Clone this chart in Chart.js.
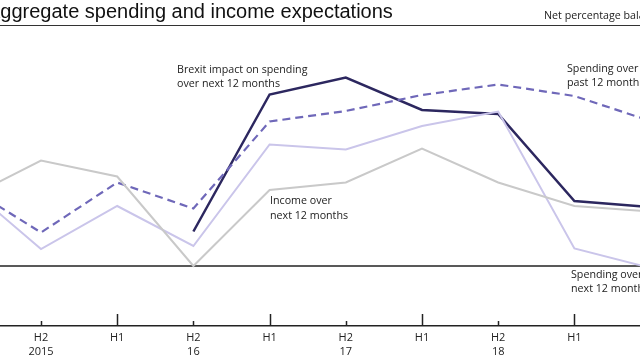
<!DOCTYPE html>
<html>
<head>
<meta charset="utf-8">
<style>
  html, body { margin: 0; padding: 0; background: #fff; overflow: hidden; }
  #wrap { position: relative; width: 640px; height: 360px; overflow: hidden; }
  canvas { position: absolute; left: 0; top: 0; }
  #title { position: absolute; left: -13px; top: 0px; font: 20px "Liberation Sans", Arial, sans-serif; color: #111; white-space: nowrap; }
  #units { position: absolute; left: 544px; top: 8px; font: 10.7px "Open Sans", sans-serif; color: #222; white-space: nowrap; }
  #rule { position: absolute; left: 0; top: 25px; width: 640px; border-top: 1.5px solid #333; }
</style>
</head>
<body>
<div id="wrap">
  <canvas id="myChart" width="640" height="360"></canvas>
  <div id="title">Aggregate spending and income expectations</div>
  <div id="units">Net percentage balances</div>
  <div id="rule"></div>
</div>

<script src="https://cdn.jsdelivr.net/npm/chart.js"></script>
<script>
// half-year periods, H1 2015 .. H2 2019 (the picture is cropped at both ends)
const halves = ['H1', 'H2', 'H1', 'H2', 'H1', 'H2', 'H1', 'H2', 'H1', 'H2'];
const years  = ['', '2015', '', '16', '', '17', '', '18', '', '19'];

// net percentage balances
const incomeNext    = [13.3, 21.1, 17.9, 0.0, 15.2, 16.7, 23.5, 16.7, 12.0, 10.9];
const spendingNext  = [16.4, 3.4, 12.0, 4.0, 24.3, 23.3, 28.0, 30.9, 3.5, -0.4];
const spendingPast  = [16.2, 6.7, 16.7, 11.5, 28.9, 31.0, 34.2, 36.3, 34.0, 29.0];
const brexitImpact  = [null, null, null, 6.9, 34.3, 37.7, 31.2, 30.4, 13.0, 11.8];

const visibleTicks = [1, 2, 3, 4, 5, 6, 7, 8];

const toPoints = arr => arr.map((v, i) => ({ x: i, y: v }));

const ctx = document.getElementById('myChart').getContext('2d');

// zero line, upward tick marks and the line labels
const decor = {
  id: 'decor',
  beforeDatasetsDraw(chart) {
    const { ctx, chartArea } = chart;
    const y0 = chart.scales.y.getPixelForValue(0);
    ctx.save();
    ctx.strokeStyle = '#222';
    ctx.lineWidth = 1.3;
    ctx.beginPath();
    ctx.moveTo(chartArea.left, y0);
    ctx.lineTo(chartArea.right, y0);
    ctx.stroke();
    ctx.restore();
  },
  afterDraw(chart) {
    const { ctx, chartArea } = chart;
    const xs = chart.scales.x;
    ctx.save();
    ctx.strokeStyle = '#222';
    ctx.lineWidth = 1.5;
    visibleTicks.forEach(v => {
      const px = Math.round(xs.getPixelForValue(v)) + 0.5;
      const len = halves[v] === 'H1' ? 12 : 5;
      ctx.beginPath();
      ctx.moveTo(px, chartArea.bottom);
      ctx.lineTo(px, chartArea.bottom - len);
      ctx.stroke();
    });

    ctx.fillStyle = '#222';
    ctx.font = '10.7px "Open Sans", sans-serif';
    ctx.textBaseline = 'middle';
    ctx.textAlign = 'left';
    const notes = [
      ['Brexit impact on spending', 177, 70], ['over next 12 months', 177, 84],
      ['Income over', 270, 201], ['next 12 months', 270, 216],
      ['Spending over', 567, 69], ['past 12 months', 567, 83],
      ['Spending over', 571, 275], ['next 12 months', 571, 289]
    ];
    notes.forEach(([t, x, y]) => ctx.fillText(t, x, y));
    ctx.restore();
  }
};

new Chart(ctx, {
  type: 'line',
  data: {
    datasets: [
      {
        label: 'Income over next 12 months',
        data: toPoints(incomeNext),
        borderColor: '#c9c9c9',
        borderWidth: 2
      },
      {
        label: 'Spending over next 12 months',
        data: toPoints(spendingNext),
        borderColor: '#cac5ea',
        borderWidth: 2
      },
      {
        label: 'Spending over past 12 months',
        data: toPoints(spendingPast),
        borderColor: '#6f68b9',
        borderWidth: 2.2,
        borderDash: [8, 5]
      },
      {
        label: 'Brexit impact on spending over next 12 months',
        data: toPoints(brexitImpact),
        borderColor: '#2c275f',
        borderWidth: 2.5
      }
    ]
  },
  options: {
    responsive: false,
    animation: false,
    layout: { padding: { top: 30, left: 0, right: 0, bottom: 0 } },
    elements: { point: { radius: 0 }, line: { tension: 0 } },
    plugins: {
      legend: { display: false },
      tooltip: { enabled: false }
    },
    scales: {
      x: {
        type: 'linear',
        min: 0.462,
        max: 8.861,
        afterBuildTicks: s => { s.ticks = visibleTicks.map(v => ({ value: v })); },
        afterFit: s => { s.height = 34; },
        grid: { display: false, drawTicks: false },
        border: { display: true, color: '#222', width: 1.5 },
        ticks: {
          padding: 5,
          autoSkip: false,
          maxRotation: 0,
          color: '#222',
          font: { family: 'Open Sans', size: 11, lineHeight: 1.25 },
          callback: v => years[v] ? [halves[v], years[v]] : halves[v]
        }
      },
      y: { display: false, min: -12, max: 47.2 }
    }
  },
  plugins: [decor]
});
</script>
</body>
</html>
